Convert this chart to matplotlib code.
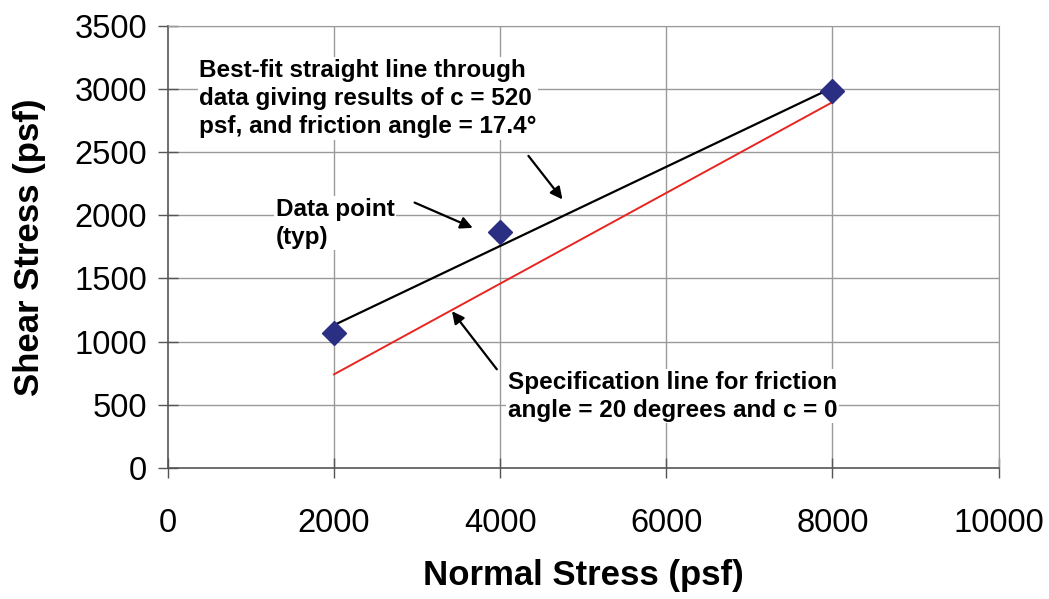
import matplotlib.pyplot as plt
import matplotlib as mpl
import numpy as np

# data
normal_stress = [2000, 4000, 8000]
shear_stress = [1070, 1870, 2985]

fit_x = [2000, 8000]
fit_y = [1130, 3010]

spec_x = [2000, 8000]
spec_y = [740, 2895]

x_ticks = [0, 2000, 4000, 6000, 8000, 10000]
y_ticks = [0, 500, 1000, 1500, 2000, 2500, 3000, 3500]

plt.rcParams['font.family'] = ['Liberation Sans', 'DejaVu Sans']

fig = plt.figure(figsize=(10.49, 5.99), dpi=100)
ax = fig.add_axes([0.160, 0.219, 0.792, 0.738])

# grid and frame, Excel style
grid_col = '#9a9a9a'
for t in x_ticks[1:]:
    ax.axvline(t, color=grid_col, lw=1.0, zorder=0)
for t in y_ticks[1:]:
    ax.axhline(t, color=grid_col, lw=1.0, zorder=0)

ax.plot(fit_x, fit_y, color='black', lw=1.6, zorder=3)
ax.plot(spec_x, spec_y, color='#e8251f', lw=1.4, zorder=3)
ax.plot(normal_stress, shear_stress, linestyle='none', marker='D', markersize=12,
        color='#2b2f84', markeredgecolor='#2b2f84', zorder=4)

ax.set_xlim(0, 10000)
ax.set_ylim(0, 3500)
ax.set_xticks(x_ticks)
ax.set_yticks(y_ticks)
ax.tick_params(axis='both', labelsize=23.5, colors='#555555', labelcolor='black',
               direction='inout', length=14, width=1.0)
ax.tick_params(axis='x', pad=22)
ax.tick_params(axis='y', pad=8)
for s in ['top', 'right']:
    ax.spines[s].set_color(grid_col)
for s in ['left', 'bottom']:
    ax.spines[s].set_color('#555555')
    ax.spines[s].set_linewidth(1.2)

ax.set_xlabel('Normal Stress (psf)', fontsize=25, fontweight='bold', labelpad=14)
ax.set_ylabel('Shear Stress (psf)', fontsize=25, fontweight='bold', labelpad=20)

note_font = dict(fontsize=17.5, fontweight='bold', family=['Liberation Sans Narrow', 'Liberation Sans'],
                 linespacing=1.3, va='top', ha='left')
box = dict(facecolor='white', edgecolor='none', pad=1)
arrow = dict(arrowstyle='-|>', color='black', lw=1.6, mutation_scale=18, shrinkA=0, shrinkB=0)

ax.annotate('Best-fit straight line through\ndata giving results of c = 520\npsf, and friction angle = 17.4°',
            xy=(4750, 2125), xytext=(380, 3240), textcoords='data', bbox=box, zorder=5, **note_font)
ax.annotate('', xy=(4750, 2125), xytext=(4340, 2470), arrowprops=arrow, zorder=5)

ax.annotate('Data point\n(typ)', xy=(3670, 1900), xytext=(1300, 2140), bbox=box, zorder=5, **note_font)
ax.annotate('', xy=(3670, 1900), xytext=(2970, 2100), arrowprops=arrow, zorder=5)

ax.annotate('Specification line for friction\nangle = 20 degrees and c = 0',
            xy=(3420, 1240), xytext=(4090, 770), bbox=box, zorder=5, **note_font)
ax.annotate('', xy=(3420, 1240), xytext=(3960, 780), arrowprops=arrow, zorder=5)

fig.savefig('out.png', dpi=100)
